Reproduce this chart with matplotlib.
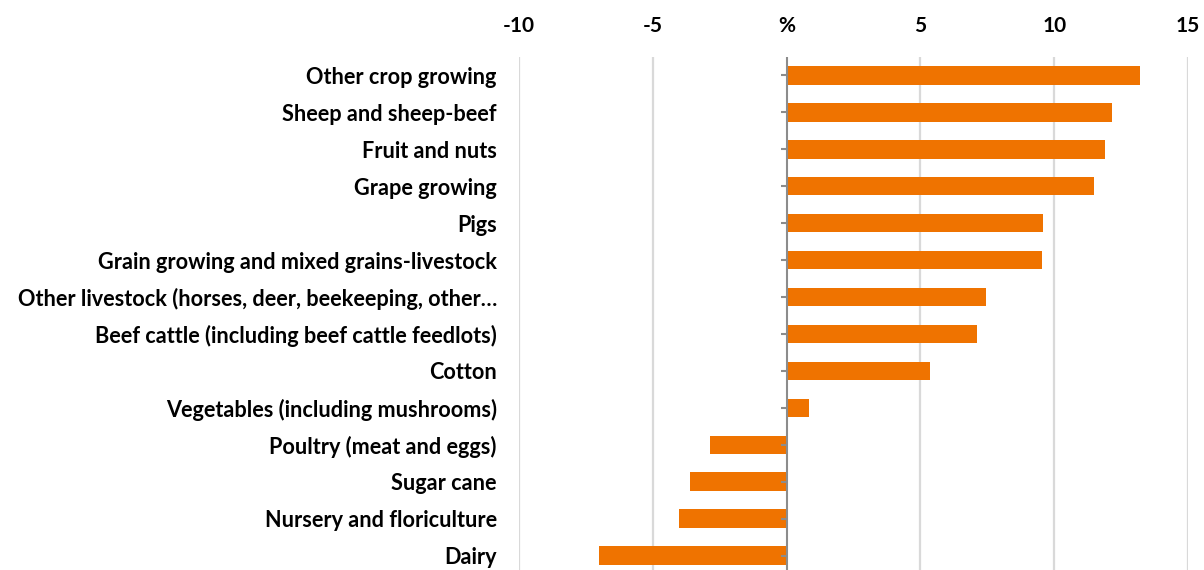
import numpy as np
import matplotlib.pyplot as plt

plt.rcParams['font.family'] = ['Lato', 'DejaVu Sans']
plt.rcParams['font.weight'] = 'bold'

industries = [
    'Other crop growing',
    'Sheep and sheep-beef',
    'Fruit and nuts',
    'Grape growing',
    'Pigs',
    'Grain growing and mixed grains-livestock',
    'Other livestock (horses, deer, beekeeping, other\u2026',
    'Beef cattle (including beef cattle feedlots)',
    'Cotton',
    'Vegetables (including mushrooms)',
    'Poultry (meat and eggs)',
    'Sugar cane',
    'Nursery and floriculture',
    'Dairy',
]
change_pct = [13.2, 12.15, 11.9, 11.5, 9.6, 9.55, 7.45, 7.1, 5.35, 0.82,
              -2.87, -3.62, -4.03, -7.0]

x_ticks = [-10, -5, 0, 5, 10, 15]
x_tick_labels = ['-10', '-5', '%', '5', '10', '15']

fig = plt.figure(figsize=(12.04, 5.70), dpi=100)
ax = fig.add_axes([519 / 1204, -4 / 570, (1188 - 519) / 1204, (574 - 57) / 570])

y = np.arange(len(industries))
ax.barh(y, change_pct, height=0.5, color='#EF7300', zorder=3)

ax.set_xlim(-10, 15)
ax.set_ylim(len(industries) - 0.5, -0.5)

# light vertical gridlines, zero axis drawn separately
ax.set_xticks(x_ticks)
ax.set_xticklabels(x_tick_labels, fontsize=15, fontweight='bold')
ax.xaxis.tick_top()
ax.tick_params(axis='x', length=0, pad=15)
for v in x_ticks:
    if v != 0:
        ax.axvline(v, color='#D9D9D9', lw=1.6, zorder=1)
ax.axvline(0, color='#8C8C8C', lw=1.5, zorder=4)
ax.hlines(y, -0.2, 0, color='#8C8C8C', lw=1.5, zorder=4)

ax.set_yticks(y)
ax.set_yticklabels(industries, fontsize=15.6, fontweight='bold')
ax.tick_params(axis='y', length=0, pad=16)

for s in ax.spines.values():
    s.set_visible(False)

fig.savefig('out.png', dpi=100)
